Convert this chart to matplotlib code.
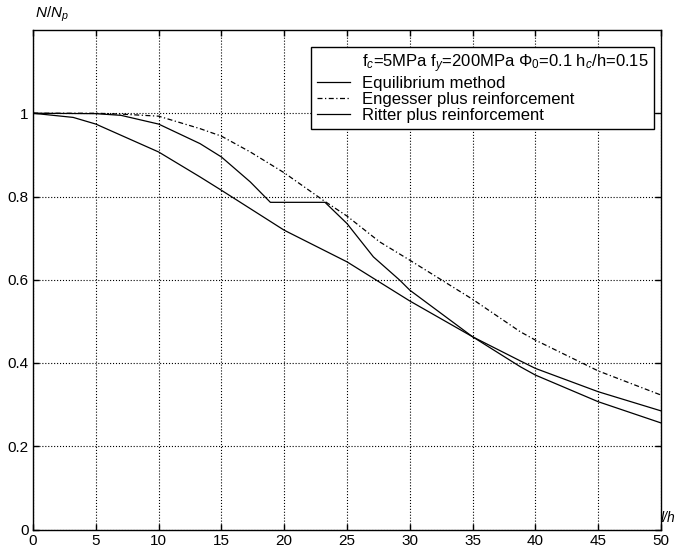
import matplotlib
matplotlib.use('Agg')
import matplotlib.pyplot as plt
from matplotlib.lines import Line2D

plt.rcParams['font.family'] = ['Liberation Sans', 'DejaVu Sans']
plt.rcParams['mathtext.fontset'] = 'custom'
plt.rcParams['mathtext.rm'] = 'Liberation Sans'
plt.rcParams['mathtext.it'] = 'Liberation Sans:italic'

# slenderness l/h
x_equil = [0, 5, 7, 10, 13.3, 15, 17.3, 18.9, 23.25, 25, 27.1, 29.2, 30, 35, 38.8, 40, 45, 50]
y_equil = [1.0, 0.999, 0.995, 0.974, 0.927, 0.895, 0.835, 0.786, 0.786, 0.735, 0.655, 0.599, 0.575,
           0.463, 0.391, 0.371, 0.307, 0.256]

x_enges = [0, 5, 7, 10, 13.3, 15, 17.3, 20, 23.1, 25, 27.6, 30, 35, 38.8, 40, 45, 50]
y_enges = [1.0, 1.0, 0.998, 0.993, 0.963, 0.945, 0.907, 0.857, 0.791, 0.753, 0.691, 0.647,
           0.553, 0.475, 0.455, 0.381, 0.323]

x_ritter = [0, 3.2, 5, 10, 13.3, 15, 20, 25, 30, 35, 38.8, 40, 45, 50]
y_ritter = [1.0, 0.99, 0.974, 0.907, 0.847, 0.815, 0.719, 0.643, 0.549, 0.463, 0.405, 0.387,
            0.331, 0.285]

x_ticks = list(range(0, 51, 5))
y_ticks = [0, 0.2, 0.4, 0.6, 0.8, 1]
y_ticklabels = ['0', '0.2', '0.4', '0.6', '0.8', '1']

title_label = r'f$_c$=5MPa f$_y$=200MPa $\Phi_0$=0.1 h$_c$/h=0.15'

fig = plt.figure(figsize=(6.77, 5.5), dpi=100)
ax = fig.add_axes([33 / 677, 20.5 / 550, 628 / 677, 499.5 / 550])

l1, = ax.plot(x_equil, y_equil, color='black', lw=0.9, ls='-')
l2, = ax.plot(x_enges, y_enges, color='black', lw=0.9, ls=(0, (4, 2, 1, 2)))
l3, = ax.plot(x_ritter, y_ritter, color='black', lw=0.9, ls='-')

ax.set_xlim(0, 50)
ax.set_ylim(0, 1.2)
ax.set_xticks(x_ticks)
ax.set_yticks(y_ticks)
ax.set_yticklabels(y_ticklabels)
ax.tick_params(direction='in', length=4, width=1, top=True, right=True,
               labelsize=11, colors='black', pad=3)
ax.grid(True, color='black', ls=':', lw=0.8)
for s in ax.spines.values():
    s.set_linewidth(1.0)
    s.set_color('black')

ax.text(0.003, 1.024, r'$N/N_p$', transform=ax.transAxes, fontsize=11,
        ha='left', va='baseline')
fig.text(676 / 677, 0.05, 'l/h', fontsize=10, style='italic',
         ha='right', va='baseline')

blank = Line2D([], [], color='none')
leg = ax.legend([blank, l1, l2, l3],
                [title_label, 'Equilibrium method', 'Engesser plus reinforcement',
                 'Ritter plus reinforcement'],
                loc='upper right', bbox_to_anchor=(0.989, 0.966), borderaxespad=0,
                fontsize=12, fancybox=False, framealpha=1, edgecolor='black',
                handlelength=2.0, handletextpad=0.7, labelspacing=0.05, borderpad=0.35)
leg.get_frame().set_linewidth(1.0)

fig.savefig('out.png', dpi=100)
